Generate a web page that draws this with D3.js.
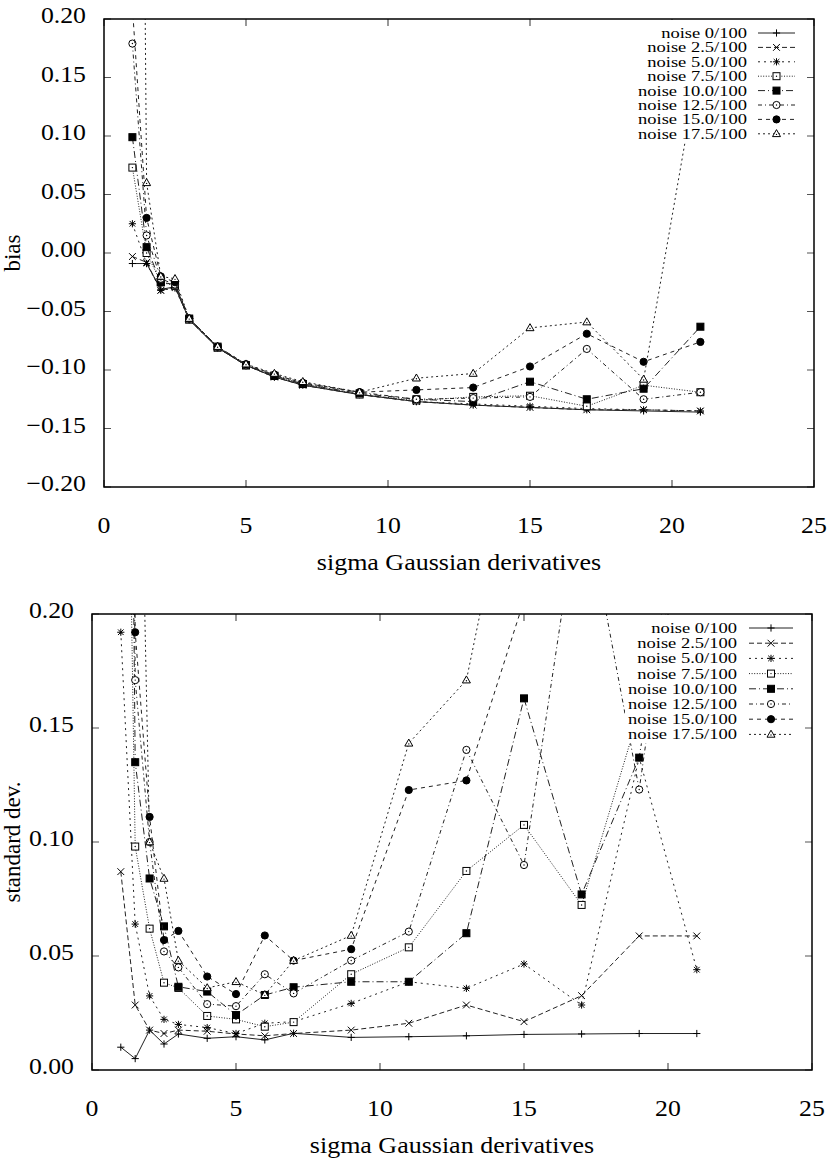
<!DOCTYPE html>
<meta charset="utf-8">
<head>
<style>
  body { margin: 0; background: #fff; }
  text { font-family: "Liberation Serif", "Times New Roman", Times, serif; fill: #000; }
</style>
</head>
<body>
<svg id="chart"></svg>
<script src="https://d3js.org/d3.v7.min.js"></script>
<script>

// sigma of the Gaussian derivatives (x values, shared by every series)
var sigmas = [1, 1.5, 2, 2.5, 3, 4, 5, 6, 7, 9, 11, 13, 15, 17, 19, 21];

var noiseLabels = ["noise 0/100", "noise 2.5/100", "noise 5.0/100", "noise 7.5/100",
                   "noise 10.0/100", "noise 12.5/100", "noise 15.0/100", "noise 17.5/100"];

// bias (upper panel)
var bias00  = [-0.009, -0.009, -0.031, -0.029, -0.057, -0.081, -0.096, -0.106, -0.113, -0.121, -0.127, -0.130, -0.132, -0.134, -0.135, -0.136];
var bias25  = [-0.003, -0.008, -0.032, -0.029, -0.057, -0.081, -0.096, -0.106, -0.113, -0.121, -0.127, -0.130, -0.132, -0.134, -0.134, -0.135];
var bias50  = [ 0.025, -0.009, -0.032, -0.030, -0.057, -0.081, -0.096, -0.106, -0.112, -0.121, -0.127, -0.129, -0.131, -0.133, -0.134, -0.135];
var bias75  = [ 0.073,  0.000, -0.025, -0.028, -0.057, -0.081, -0.096, -0.105, -0.112, -0.121, -0.126, -0.123, -0.122, -0.131, -0.113, -0.119];
var bias100 = [ 0.099,  0.005, -0.025, -0.027, -0.056, -0.080, -0.096, -0.105, -0.112, -0.120, -0.125, -0.127, -0.110, -0.125, -0.116, -0.063];
var bias125 = [ 0.179,  0.015, -0.022, -0.027, -0.056, -0.080, -0.096, -0.104, -0.111, -0.119, -0.125, -0.124, -0.123, -0.082, -0.125, -0.119];
var bias150 = [ 0.210,  0.030, -0.020, -0.025, -0.056, -0.080, -0.095, -0.104, -0.111, -0.119, -0.117, -0.115, -0.097, -0.069, -0.093, -0.076];
var bias175 = [ 1.500,  0.060, -0.020, -0.022, -0.056, -0.080, -0.095, -0.103, -0.110, -0.119, -0.107, -0.103, -0.064, -0.059, -0.108,  0.170];

// standard deviation (lower panel)
var std00  = [0.010, 0.005, 0.0175, 0.0114, 0.0158, 0.0139, 0.0146, 0.0132, 0.0161, 0.0143, 0.0146, 0.0150, 0.0156, 0.0158, 0.0160, 0.0160];
var std25  = [0.087, 0.0285, 0.0175, 0.016, 0.0175, 0.017, 0.0158, 0.015, 0.016, 0.0175, 0.0205, 0.0285, 0.0212, 0.0326, 0.0588, 0.0588];
var std50  = [0.192, 0.064, 0.0325, 0.0222, 0.020, 0.0186, 0.016, 0.0205, 0.0212, 0.0292, 0.0387, 0.0358, 0.0465, 0.0285, 0.137, 0.044];
var std75  = [0.500, 0.098, 0.062, 0.0383, 0.036, 0.0237, 0.0222, 0.019, 0.021, 0.042, 0.0538, 0.0873, 0.1075, 0.0724, 0.157, 0.250];
var std100 = [0.800, 0.135, 0.084, 0.063, 0.0365, 0.0344, 0.0241, 0.0329, 0.0363, 0.0387, 0.0387, 0.060, 0.163, 0.077, 0.137, 0.300];
var std125 = [0.900, 0.171, 0.100, 0.052, 0.045, 0.0289, 0.028, 0.042, 0.0336, 0.048, 0.0607, 0.1404, 0.0899, 0.258, 0.123, 0.300];
var std150 = [1.000, 0.192, 0.111, 0.057, 0.061, 0.041, 0.0333, 0.059, 0.048, 0.053, 0.1228, 0.127, 0.206, 0.300, 0.300, 0.300];
var std175 = [1.500, 0.400, 0.100, 0.084, 0.048, 0.036, 0.0387, 0.033, 0.048, 0.059, 0.1433, 0.171, 0.294, 0.400, 0.400, 0.400];

var xTicks = [0, 5, 10, 15, 20, 25];
var biasTicks = [-0.20, -0.15, -0.10, -0.05, 0.00, 0.05, 0.10, 0.15, 0.20];
var stdTicks = [0.00, 0.05, 0.10, 0.15, 0.20];

var markers = ["plus", "cross", "star", "sqOpen", "sqFill", "circOpen", "circFill", "triOpen"];
var dashes = [null, "5,3", "2,4", "1,1.6", "7,3,1,3", "4,3,1,3", "4,4", "2,3"];

var W = 838, H = 1161;
var svg = d3.select("#chart").attr("width", W).attr("height", H);
svg.append("rect").attr("width", W).attr("height", H).attr("fill", "#fff");

var fmt = d3.format(".2f");

// text in the picture is a bit wider than the font, stretch it
function stretch(sel, k) {
  sel.each(function() {
    var w = this.getComputedTextLength();
    d3.select(this).attr("textLength", w * k).attr("lengthAdjust", "spacingAndGlyphs");
  });
  return sel;
}

function marker(g, type, cx, cy) {
  var s = 3.6, c = "#000";
  if (type == "plus" || type == "star") {
    g.append("path").attr("d", "M" + (cx - s) + "," + cy + "H" + (cx + s) + "M" + cx + "," + (cy - s) + "V" + (cy + s))
      .attr("stroke", c).attr("stroke-width", 1);
  }
  if (type == "cross" || type == "star") {
    var t = type == "star" ? 2.8 : 3.4;
    g.append("path").attr("d", "M" + (cx - t) + "," + (cy - t) + "L" + (cx + t) + "," + (cy + t) + "M" + (cx - t) + "," + (cy + t) + "L" + (cx + t) + "," + (cy - t))
      .attr("stroke", c).attr("stroke-width", 1);
  }
  if (type == "sqOpen" || type == "sqFill") {
    g.append("rect").attr("x", cx - 3.5).attr("y", cy - 3.5).attr("width", 7).attr("height", 7)
      .attr("fill", type == "sqFill" ? c : "#fff").attr("stroke", c).attr("stroke-width", 1);
    if (type == "sqOpen") g.append("circle").attr("cx", cx).attr("cy", cy).attr("r", 0.7).attr("fill", c);
  }
  if (type == "circOpen" || type == "circFill") {
    g.append("circle").attr("cx", cx).attr("cy", cy).attr("r", 3.6)
      .attr("fill", type == "circFill" ? c : "#fff").attr("stroke", c).attr("stroke-width", 1);
    if (type == "circOpen") g.append("circle").attr("cx", cx).attr("cy", cy).attr("r", 0.7).attr("fill", c);
  }
  if (type == "triOpen") {
    g.append("path").attr("d", "M" + cx + "," + (cy - 4.2) + "L" + (cx + 4) + "," + (cy + 2.8) + "L" + (cx - 4) + "," + (cy + 2.8) + "Z")
      .attr("fill", "#fff").attr("stroke", c).attr("stroke-width", 1);
    g.append("circle").attr("cx", cx).attr("cy", cy + 0.6).attr("r", 0.7).attr("fill", c);
  }
}

function drawPanel(p) {
  var x = d3.scaleLinear().domain([0, 25]).range([p.left, p.right]);
  var y = d3.scaleLinear().domain(p.yDomain).range([p.bottom, p.top]);
  var g = svg.append("g");

  var clipId = "clip" + p.id;
  svg.append("clipPath").attr("id", clipId)
    .append("rect").attr("x", p.left).attr("y", p.top)
    .attr("width", p.right - p.left).attr("height", p.bottom - p.top);

  // ticks, pointing inward on all four sides
  var tk = 7;
  g.selectAll(".yt").data(p.yTicks).enter().append("path")
    .attr("d", function(d) { return "M" + p.left + "," + y(d) + "h" + tk + "M" + p.right + "," + y(d) + "h" + (-tk); })
    .attr("stroke", "#555").attr("stroke-width", 1.2);
  g.selectAll(".xt").data(xTicks).enter().append("path")
    .attr("d", function(d) { return "M" + x(d) + "," + p.bottom + "v" + (-tk) + "M" + x(d) + "," + p.top + "v" + tk; })
    .attr("stroke", "#555").attr("stroke-width", 1.2);

  // series
  var lines = g.append("g").attr("clip-path", "url(#" + clipId + ")");
  var line = d3.line().x(function(d) { return x(d[0]); }).y(function(d) { return y(d[1]); });
  p.series.forEach(function(vals, i) {
    var pts = sigmas.map(function(s, j) { return [s, vals[j]]; });
    lines.append("path").attr("d", line(pts))
      .attr("fill", "none").attr("stroke", "#222").attr("stroke-width", 1)
      .attr("stroke-dasharray", dashes[i]);
    pts.forEach(function(d) {
      if (d[1] >= p.yDomain[0] && d[1] <= p.yDomain[1]) marker(lines, markers[i], x(d[0]), y(d[1]));
    });
  });

  // legend, opaque like gnuplot's key (sits on top of the curves)
  var lg = g.append("g");
  var boxTop = p.top + 1;
  lg.append("rect").attr("x", p.legX - 112).attr("y", boxTop)
    .attr("width", p.legLine[1] + 120).attr("height", p.legY + p.legStep * 7 + 9 - boxTop).attr("fill", "#fff");
  noiseLabels.forEach(function(lbl, i) {
    var cy = p.legY + i * p.legStep;
    stretch(lg.append("text").attr("x", p.legX).attr("y", cy + 5)
      .attr("text-anchor", "end").attr("font-size", p.legFont).text(lbl), 18.5 / p.legFont);
    lg.append("path").attr("d", "M" + (p.legX + p.legLine[0]) + "," + cy + "H" + (p.legX + p.legLine[1]))
      .attr("fill", "none").attr("stroke", "#222").attr("stroke-width", 1)
      .attr("stroke-dasharray", dashes[i]);
    marker(lg, markers[i], p.legX + (p.legLine[0] + p.legLine[1]) / 2, cy);
  });

  // frame
  g.append("rect").attr("x", p.left).attr("y", p.top)
    .attr("width", p.right - p.left).attr("height", p.bottom - p.top)
    .attr("fill", "none").attr("stroke", "#000").attr("stroke-width", 1.5);

  // tick labels
  stretch(g.selectAll(".yl").data(p.yTicks).enter().append("text")
    .attr("x", p.left - 18).attr("y", function(d) { return y(d) + 4; })
    .attr("text-anchor", "end").attr("font-size", 23)
    .text(function(d) { return fmt(d); }), 1.12);
  stretch(g.selectAll(".xl").data(xTicks).enter().append("text")
    .attr("x", function(d) { return x(d); }).attr("y", p.bottom + 46)
    .attr("text-anchor", "middle").attr("font-size", 23)
    .text(function(d) { return d; }), 1.12);

  // axis titles
  stretch(g.append("text").attr("x", (p.left + p.right) / 2).attr("y", p.bottom + 83)
    .attr("text-anchor", "middle").attr("font-size", 23).text("sigma Gaussian derivatives"), 1.13);
  g.append("text")
    .attr("transform", "translate(" + p.yTitleX + "," + ((p.top + p.bottom) / 2) + ") rotate(-90)")
    .attr("text-anchor", "middle").attr("font-size", 23).text(p.yTitle);
}

drawPanel({
  id: "bias", left: 104, right: 814, top: 19, bottom: 487,
  yDomain: [-0.2, 0.2], yTicks: biasTicks, yTitle: "bias", yTitleX: 20,
  series: [bias00, bias25, bias50, bias75, bias100, bias125, bias150, bias175],
  legX: 747, legY: 33, legStep: 14.4, legFont: 14, legLine: [11, 48]
});

drawPanel({
  id: "std", left: 92, right: 812, top: 614, bottom: 1070,
  yDomain: [0, 0.2], yTicks: stdTicks, yTitle: "standard dev.", yTitleX: 20,
  series: [std00, std25, std50, std75, std100, std125, std150, std175],
  legX: 737, legY: 628, legStep: 15.2, legFont: 15, legLine: [12, 56]
});

</script>
</body>
